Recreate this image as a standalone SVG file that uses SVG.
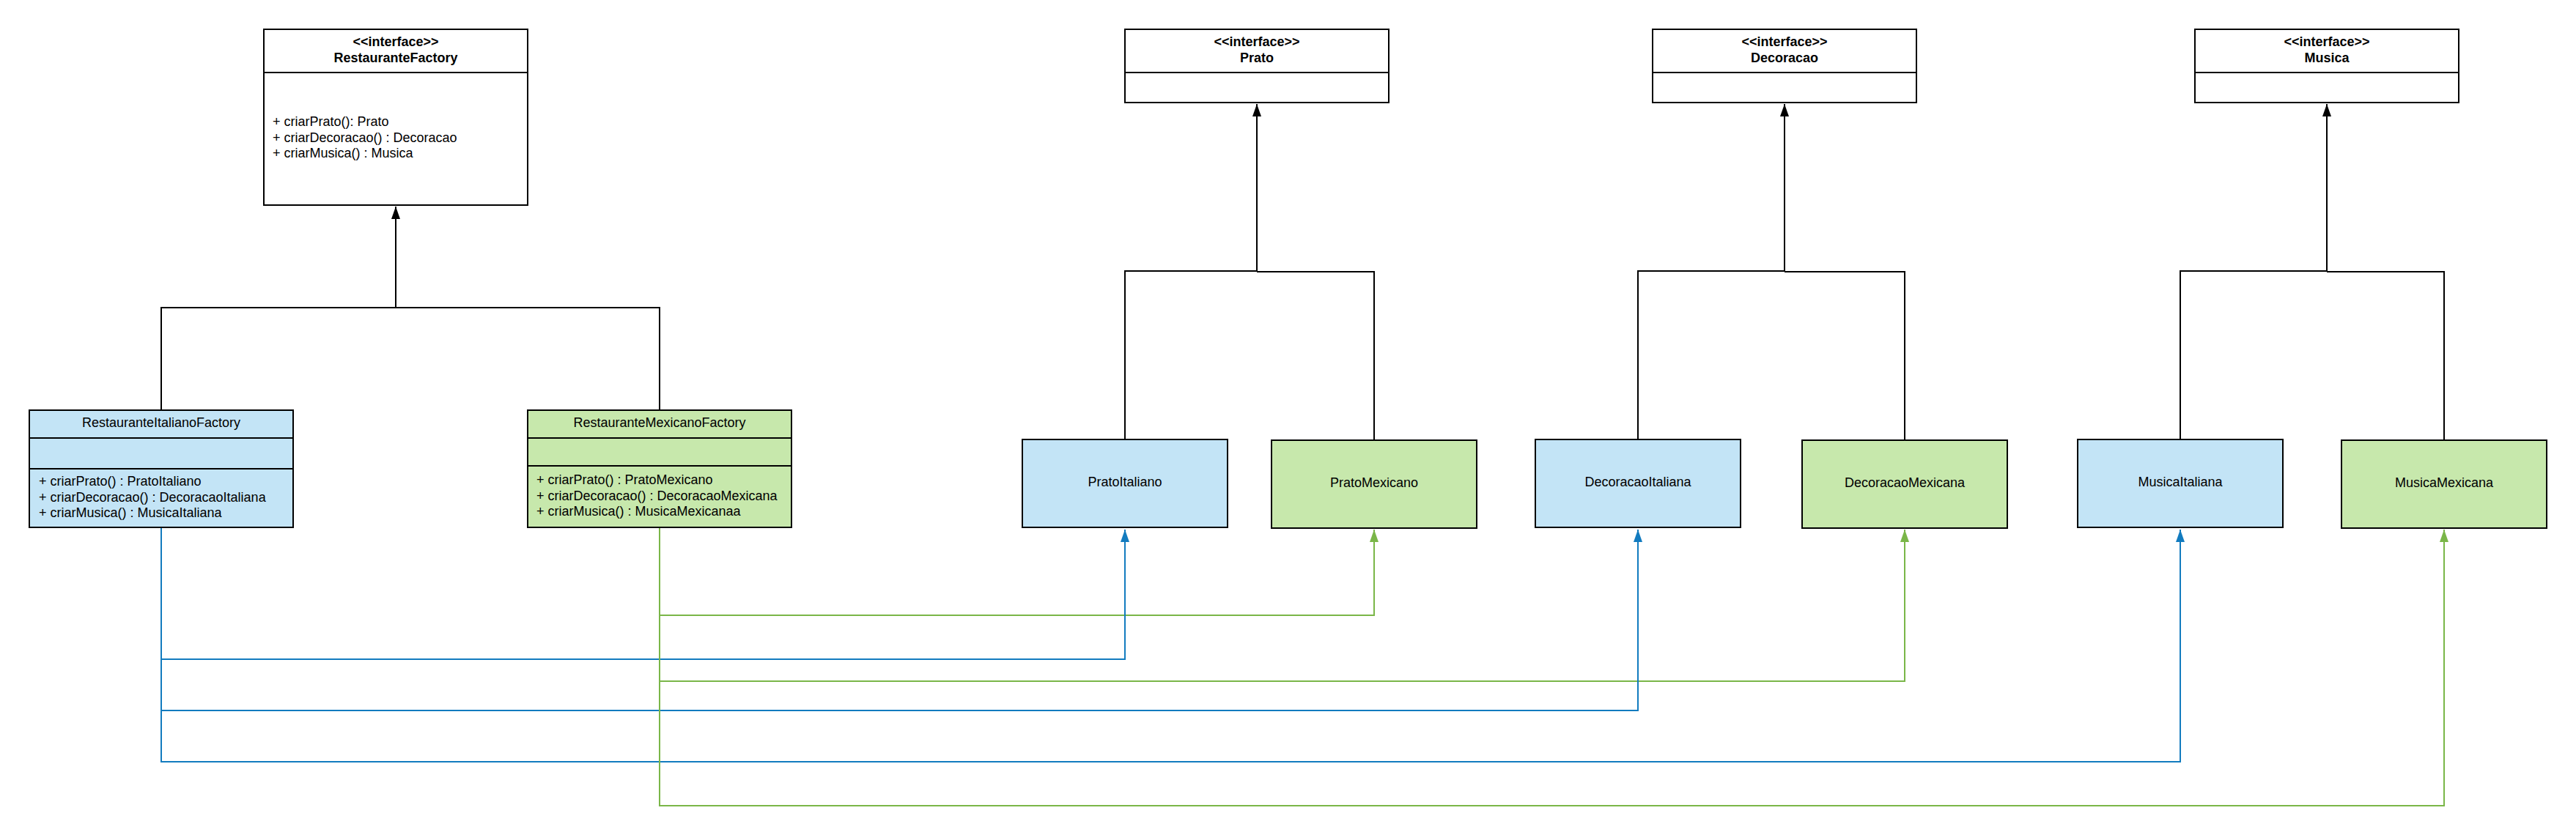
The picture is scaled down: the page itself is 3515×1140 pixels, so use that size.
<svg xmlns="http://www.w3.org/2000/svg" width="3515" height="1140" viewBox="0 0 3515 1140">
<style>
text{font-family:"Liberation Sans",Arial,sans-serif;font-size:18px;fill:#000}
.b{font-weight:bold}
.c{text-anchor:middle}
.box{stroke:#000;stroke-width:2}
.w{fill:#fff}
.bl{fill:#c3e4f6}
.gr{fill:#c7e8ac}
.k{fill:none;stroke:#000;stroke-width:2}
.cb{fill:none;stroke:#127bbf;stroke-width:2}
.cg{fill:none;stroke:#7ab648;stroke-width:2}
</style>
<defs>
<marker id="ak" markerUnits="userSpaceOnUse" markerWidth="18" markerHeight="12" refX="17" refY="6" orient="auto"><path d="M0,0 L17,6 L0,12 z" fill="#000"/></marker>
<marker id="ab" markerUnits="userSpaceOnUse" markerWidth="18" markerHeight="12" refX="17" refY="6" orient="auto"><path d="M0,0 L17,6 L0,12 z" fill="#127bbf"/></marker>
<marker id="ag" markerUnits="userSpaceOnUse" markerWidth="18" markerHeight="12" refX="17" refY="6" orient="auto"><path d="M0,0 L17,6 L0,12 z" fill="#7ab648"/></marker>
</defs>
<rect width="3515" height="1140" fill="#fff"/>

<g id="connectors">
<path class="k" d="M220 560 V420 H900 V560"/>
<path class="k" d="M540 420 V282" marker-end="url(#ak)"/>
<path class="k" d="M1535 600 V370 H1715"/>
<path class="k" d="M1875 600 V371 H1715"/>
<path class="k" d="M1715 370 V142" marker-end="url(#ak)"/>
<path class="k" d="M2235 600 V370 H2435"/>
<path class="k" d="M2599 600 V371 H2435"/>
<path class="k" d="M2435 370 V142" marker-end="url(#ak)"/>
<path class="k" d="M2975 600 V370 H3175"/>
<path class="k" d="M3335 600 V371 H3175"/>
<path class="k" d="M3175 370 V142" marker-end="url(#ak)"/>
<path class="cg" d="M900 721 V840 H1875 V723" marker-end="url(#ag)"/>
<path class="cb" d="M220 721 V900 H1535 V723" marker-end="url(#ab)"/>
<path class="cg" d="M900 721 V930 H2599 V723" marker-end="url(#ag)"/>
<path class="cb" d="M220 721 V970 H2235 V723" marker-end="url(#ab)"/>
<path class="cb" d="M220 721 V1040 H2975 V723" marker-end="url(#ab)"/>
<path class="cg" d="M900 721 V1100 H3335 V723" marker-end="url(#ag)"/>
</g>

<g id="RestauranteFactory">
<rect class="box w" x="360" y="40" width="360" height="240"/>
<line class="k" x1="360" y1="99" x2="720" y2="99"/>
<text class="b c" x="540" y="63">&lt;&lt;interface&gt;&gt;</text>
<text class="b c" x="540" y="85">RestauranteFactory</text>
<text x="372" y="172">+ criarPrato(): Prato</text>
<text x="372" y="194">+ criarDecoracao() : Decoracao</text>
<text x="372" y="215">+ criarMusica() : Musica</text>
</g>

<g id="RestauranteItalianoFactory">
<rect class="box bl" x="40" y="560" width="360" height="160"/>
<line class="k" x1="40" y1="598" x2="400" y2="598"/>
<line class="k" x1="40" y1="640" x2="400" y2="640"/>
<text class="c" x="220" y="583">RestauranteItalianoFactory</text>
<text x="53" y="663">+ criarPrato() : PratoItaliano</text>
<text x="53" y="685">+ criarDecoracao() : DecoracaoItaliana</text>
<text x="53" y="706">+ criarMusica() : MusicaItaliana</text>
</g>

<g id="RestauranteMexicanoFactory">
<rect class="box gr" x="720" y="560" width="360" height="160"/>
<line class="k" x1="720" y1="598" x2="1080" y2="598"/>
<line class="k" x1="720" y1="636" x2="1080" y2="636"/>
<text class="c" x="900" y="583">RestauranteMexicanoFactory</text>
<text x="732" y="661">+ criarPrato() : PratoMexicano</text>
<text x="732" y="683">+ criarDecoracao() : DecoracaoMexicana</text>
<text x="732" y="704">+ criarMusica() : MusicaMexicanaa</text>
</g>

<g id="Prato">
<rect class="box w" x="1535" y="40" width="360" height="100"/>
<line class="k" x1="1535" y1="99" x2="1895" y2="99"/>
<text class="b c" x="1715" y="63">&lt;&lt;interface&gt;&gt;</text>
<text class="b c" x="1715" y="85">Prato</text>
</g>

<g id="Decoracao">
<rect class="box w" x="2255" y="40" width="360" height="100"/>
<line class="k" x1="2255" y1="99" x2="2615" y2="99"/>
<text class="b c" x="2435" y="63">&lt;&lt;interface&gt;&gt;</text>
<text class="b c" x="2435" y="85">Decoracao</text>
</g>

<g id="Musica">
<rect class="box w" x="2995" y="40" width="360" height="100"/>
<line class="k" x1="2995" y1="99" x2="3355" y2="99"/>
<text class="b c" x="3175" y="63">&lt;&lt;interface&gt;&gt;</text>
<text class="b c" x="3175" y="85">Musica</text>
</g>

<g id="PratoItaliano">
<rect class="box bl" x="1395" y="600" width="280" height="120"/>
<text class="c" x="1535" y="664">PratoItaliano</text>
</g>
<g id="PratoMexicano">
<rect class="box gr" x="1735" y="601" width="280" height="120"/>
<text class="c" x="1875" y="665">PratoMexicano</text>
</g>
<g id="DecoracaoItaliana">
<rect class="box bl" x="2095" y="600" width="280" height="120"/>
<text class="c" x="2235" y="664">DecoracaoItaliana</text>
</g>
<g id="DecoracaoMexicana">
<rect class="box gr" x="2459" y="601" width="280" height="120"/>
<text class="c" x="2599" y="665">DecoracaoMexicana</text>
</g>
<g id="MusicaItaliana">
<rect class="box bl" x="2835" y="600" width="280" height="120"/>
<text class="c" x="2975" y="664">MusicaItaliana</text>
</g>
<g id="MusicaMexicana">
<rect class="box gr" x="3195" y="601" width="280" height="120"/>
<text class="c" x="3335" y="665">MusicaMexicana</text>
</g>
</svg>
